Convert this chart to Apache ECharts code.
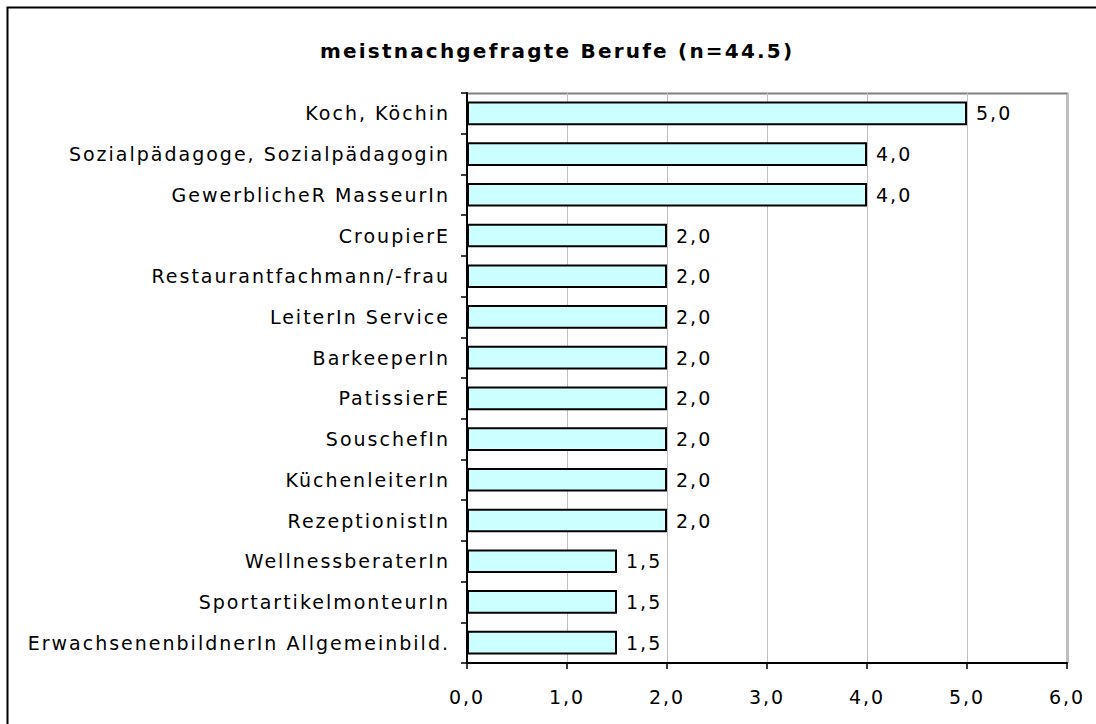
<!DOCTYPE html>
<html>
<head>
<meta charset="utf-8">
<script src="https://cdn.jsdelivr.net/npm/echarts@6/dist/echarts.min.js"></script>
<style>
    html, body { margin: 0; padding: 0; background: #fff; }
    #chart { width: 1096px; height: 724px; }
    /* the original was drawn with a wide, loosely spaced face */
    #chart text { letter-spacing: 2px; }
    #chart text[style*="bold"] { letter-spacing: 2.2px; }
</style>
</head>
<body>
<div id="chart"></div>
<script>
const chartTitle = "meistnachgefragte Berufe (n=44.5)";

// top to bottom, as in the picture
const professions = [
    "Koch, Köchin",
    "Sozialpädagoge, Sozialpädagogin",
    "GewerblicheR MasseurIn",
    "CroupierE",
    "Restaurantfachmann/-frau",
    "LeiterIn Service",
    "BarkeeperIn",
    "PatissierE",
    "SouschefIn",
    "KüchenleiterIn",
    "RezeptionistIn",
    "WellnessberaterIn",
    "SportartikelmonteurIn",
    "ErwachsenenbildnerIn Allgemeinbild."
];
const demand = [5.0, 4.0, 4.0, 2.0, 2.0, 2.0, 2.0, 2.0, 2.0, 2.0, 2.0, 1.5, 1.5, 1.5];
const axisTicks = [0, 1, 2, 3, 4, 5, 6];

const fmt = (v) => v.toFixed(1).replace(".", ",");
const font = "'DejaVu Sans', Verdana, sans-serif";

const chart = echarts.init(document.getElementById("chart"), null, { renderer: "svg" });

chart.setOption({
    animation: false,
    title: {
        text: chartTitle,
        left: 315,
        top: 36,
        textStyle: { fontFamily: font, fontSize: 20, fontWeight: "bold", color: "#000" }
    },
    grid: { left: 467, right: 29, top: 93, bottom: 61, containLabel: false },
    xAxis: {
        type: "value",
        min: axisTicks[0],
        max: axisTicks[axisTicks.length - 1],
        interval: 1,
        axisLine: { show: true, lineStyle: { color: "#000", width: 2 } },
        axisTick: { show: true, length: 6, lineStyle: { color: "#000", width: 1.5 } },
        axisLabel: {
            margin: 24,
            fontFamily: font, fontSize: 19, color: "#000",
            formatter: (v) => fmt(v)
        },
        splitLine: { show: true, lineStyle: { color: "#c0c0c0", width: 1 } }
    },
    yAxis: {
        type: "category",
        inverse: true,
        data: professions,
        axisLine: { show: true, lineStyle: { color: "#000", width: 2 } },
        axisTick: { show: true, length: 6, lineStyle: { color: "#000", width: 1.5 } },
        axisLabel: { margin: 17, fontFamily: font, fontSize: 19, color: "#000" }
    },
    series: [{
        type: "bar",
        data: demand,
        barWidth: "58%",
        itemStyle: { color: "#ccffff", borderColor: "#000", borderWidth: 2 },
        label: {
            show: true,
            position: "right",
            distance: 9,
            fontFamily: font, fontSize: 19, color: "#000",
            formatter: (p) => fmt(p.value)
        }
    }],
    graphic: [
        {
            // outer frame, runs off the right and bottom edges
            type: "rect",
            shape: { x: 7.5, y: 7.5, width: 1100, height: 730 },
            style: { fill: null, stroke: "#000", lineWidth: 2 },
            silent: true
        },
        {
            // grey plot border on top and right
            type: "polyline",
            shape: { points: [[467, 93.5], [1067.5, 93.5], [1067.5, 663]] },
            style: { fill: null, stroke: "#808080", lineWidth: 2 },
            silent: true
        }
    ]
});
</script>
</body>
</html>
